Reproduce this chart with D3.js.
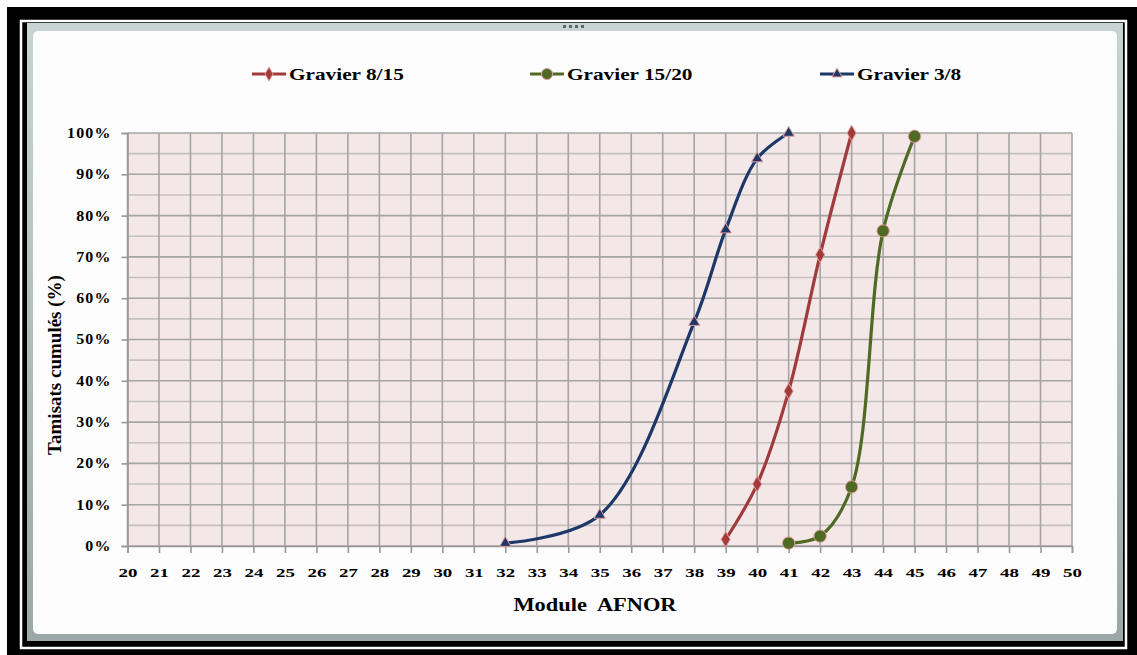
<!DOCTYPE html>
<html lang="en">
	<head>
		<meta charset="utf-8">
		<title>Module AFNOR</title>
		<script type="text/javascript" src="https://cdn.jsdelivr.net/npm/d3@7"></script>
		<style type="text/css">
			body { margin: 0; background: #ffffff; }
			svg text { font-family: "Liberation Serif", "Times New Roman", serif; font-weight: bold; fill: #000; }
		</style>
	</head>
	<body>
		<script type="text/javascript">

			//Data
			var xTicks = d3.range(20, 51);                 // Module AFNOR 20..50
			var yTicks = [0, 10, 20, 30, 40, 50, 60, 70, 80, 90, 100];
			var yMinor = [5, 15, 25, 35, 45, 55, 65, 75, 85, 95];

			var seriesNames = ["Gravier 8/15", "Gravier 15/20", "Gravier 3/8"];

			var gravier815X = [39, 40, 41, 42, 43];
			var gravier815Y = [1.6, 15, 37.5, 70.5, 100];

			var gravier1520X = [41, 42, 43, 44, 45];
			var gravier1520Y = [0.7, 2.4, 14.3, 76.3, 99.2];

			var gravier38X = [32, 35, 38, 39, 40, 41];
			var gravier38Y = [0.7, 7.5, 54.2, 76.6, 93.8, 100];

			//Width and height
			var w = 1137;
			var h = 655;

			var svg = d3.select("body")
						.append("svg")
						.attr("width", w)
						.attr("height", h);

			//Black outer frame with thin white line
			svg.append("rect")
			   .attr("x", 7).attr("y", 7)
			   .attr("width", w - 7).attr("height", h - 7)
			   .attr("fill", "#000");
			svg.append("rect")
			   .attr("x", 21).attr("y", 21)
			   .attr("width", 1105).attr("height", 627)
			   .attr("fill", "none")
			   .attr("stroke", "#fff")
			   .attr("stroke-width", 2.5);

			//Grey chart frame
			var defs = svg.append("defs");
			var grad = defs.append("linearGradient")
						   .attr("id", "frameGrad")
						   .attr("x1", 0).attr("y1", 0).attr("x2", 0).attr("y2", 1);
			grad.append("stop").attr("offset", "0%").attr("stop-color", "#c9d3d2");
			grad.append("stop").attr("offset", "100%").attr("stop-color", "#9ba8a7");
			svg.append("rect")
			   .attr("x", 27).attr("y", 23)
			   .attr("width", 1096).attr("height", 618)
			   .attr("fill", "url(#frameGrad)");
			svg.append("rect")
			   .attr("x", 33).attr("y", 31)
			   .attr("width", 1084).attr("height", 603)
			   .attr("rx", 5)
			   .attr("fill", "#fdfdfd");

			//small grip dots on the top edge
			svg.selectAll("rect.grip")
			   .data([0, 1, 2, 3])
			   .enter()
			   .append("rect")
			   .attr("class", "grip")
			   .attr("x", function(d) { return 563 + d * 6; })
			   .attr("y", 25)
			   .attr("width", 3).attr("height", 3)
			   .attr("fill", "#5d6666");

			//Scales
			var xScale = d3.scaleLinear()
						   .domain([20, 50])
						   .range([127.5, 1072]);
			var yScale = d3.scaleLinear()
						   .domain([0, 100])
						   .range([546, 133]);

			//Plot background
			svg.append("rect")
			   .attr("x", xScale(20)).attr("y", yScale(100))
			   .attr("width", xScale(50) - xScale(20))
			   .attr("height", yScale(0) - yScale(100))
			   .attr("fill", "#f3e7e7");

			//Minor horizontal grid
			svg.selectAll("line.minor")
			   .data(yMinor)
			   .enter()
			   .append("line")
			   .attr("class", "minor")
			   .attr("x1", xScale(20)).attr("x2", xScale(50))
			   .attr("y1", function(d) { return yScale(d); })
			   .attr("y2", function(d) { return yScale(d); })
			   .attr("stroke", "#c6c0c0")
			   .attr("stroke-width", 1.6);

			//Major grid
			svg.selectAll("line.hmajor")
			   .data(yTicks)
			   .enter()
			   .append("line")
			   .attr("class", "hmajor")
			   .attr("x1", xScale(20)).attr("x2", xScale(50))
			   .attr("y1", function(d) { return yScale(d); })
			   .attr("y2", function(d) { return yScale(d); })
			   .attr("stroke", "#a6a4a4")
			   .attr("stroke-width", 1.6);
			svg.selectAll("line.vmajor")
			   .data(xTicks)
			   .enter()
			   .append("line")
			   .attr("class", "vmajor")
			   .attr("x1", function(d) { return xScale(d); })
			   .attr("x2", function(d) { return xScale(d); })
			   .attr("y1", yScale(100)).attr("y2", yScale(0))
			   .attr("stroke", "#a6a4a4")
			   .attr("stroke-width", 1.6);

			//X axis
			var xAxis = d3.axisBottom()
						  .scale(xScale)
						  .tickValues(xTicks)
						  .tickSize(7)
						  .tickPadding(14)
						  .tickFormat(d3.format("d"));
			var gx = svg.append("g")
						.attr("transform", "translate(0," + yScale(0) + ")")
						.call(xAxis);
			gx.select(".domain").attr("stroke", "#999").attr("stroke-width", 1.6);
			gx.selectAll(".tick line").attr("stroke", "#999").attr("stroke-width", 1.6);
			gx.selectAll(".tick text")
			  .attr("font-size", 13.5)
			  .attr("font-family", null)
			  .attr("transform", "scale(1.4,1)")
			  .attr("x", 0);

			//Y axis
			var yAxis = d3.axisLeft()
						  .scale(yScale)
						  .tickValues(yTicks)
						  .tickSize(6)
						  .tickPadding(10)
						  .tickFormat(function(d) { return d + "%"; });
			var gy = svg.append("g")
						.attr("transform", "translate(" + xScale(20) + ",0)")
						.call(yAxis);
			gy.select(".domain").attr("stroke", "#999").attr("stroke-width", 1.6);
			gy.selectAll(".tick line").attr("stroke", "#999").attr("stroke-width", 1.6);
			gy.selectAll(".tick text")
			  .attr("font-size", 14)
			  .attr("font-family", null)
			  .attr("letter-spacing", 1)
			  .attr("transform", "scale(1.14,1)")
			  .attr("x", -16 / 1.14);

			//Axis titles
			svg.append("text")
			   .attr("transform", "translate(595,611) scale(1.18,1)")
			   .attr("text-anchor", "middle")
			   .attr("font-size", 19)
			   .attr("xml:space", "preserve")
			   .text("Module  AFNOR");

			svg.append("text")
			   .attr("transform", "translate(61,365) rotate(-90)")
			   .attr("text-anchor", "middle")
			   .attr("font-size", 19)
			   .text("Tamisats cumulés (%)");

			//Series
			var series = [
				{ name: seriesNames[0], xs: gravier815X, ys: gravier815Y, color: "#a13b3b", marker: d3.symbolDiamond, size: 70 },
				{ name: seriesNames[1], xs: gravier1520X, ys: gravier1520Y, color: "#4f6a22", marker: d3.symbolCircle, size: 120 },
				{ name: seriesNames[2], xs: gravier38X, ys: gravier38Y, color: "#1c3768", marker: d3.symbolTriangle, size: 55 }
			];

			var line = d3.line()
						 .x(function(d) { return xScale(d[0]); })
						 .y(function(d) { return yScale(d[1]); })
						 .curve(d3.curveCatmullRom.alpha(0.5));

			series.forEach(function(s) {
				var pts = s.xs.map(function(x, i) { return [x, s.ys[i]]; });

				svg.append("path")
				   .datum(pts)
				   .attr("d", line)
				   .attr("fill", "none")
				   .attr("stroke", s.color)
				   .attr("stroke-width", 3.2)
				   .attr("stroke-linecap", "round");

				svg.selectAll(null)
				   .data(pts)
				   .enter()
				   .append("path")
				   .attr("d", d3.symbol().type(s.marker).size(s.size))
				   .attr("transform", function(d) {
						return "translate(" + xScale(d[0]) + "," + yScale(d[1]) + ")";
				   })
				   .attr("fill", s.color)
				   .attr("stroke", "#e39a9a")
				   .attr("stroke-width", 1);
			});

			//Legend
			var legendX = [252, 530, 820];
			var legend = svg.selectAll("g.legend")
							.data(series)
							.enter()
							.append("g")
							.attr("class", "legend")
							.attr("transform", function(d, i) { return "translate(" + legendX[i] + ",74)"; });
			legend.append("line")
				  .attr("x1", 0).attr("x2", 34)
				  .attr("y1", 0).attr("y2", 0)
				  .attr("stroke", function(d) { return d.color; })
				  .attr("stroke-width", 3.2);
			legend.append("path")
				  .attr("d", function(d) { return d3.symbol().type(d.marker).size(d.size * 0.8)(); })
				  .attr("transform", "translate(17,0)")
				  .attr("fill", function(d) { return d.color; })
				  .attr("stroke", "#e39a9a")
				  .attr("stroke-width", 1);
			legend.append("text")
				  .attr("transform", "translate(37,5.5) scale(1.33,1)")
				  .attr("font-size", 16)
				  .text(function(d) { return d.name; });

		</script>
	</body>
</html>
